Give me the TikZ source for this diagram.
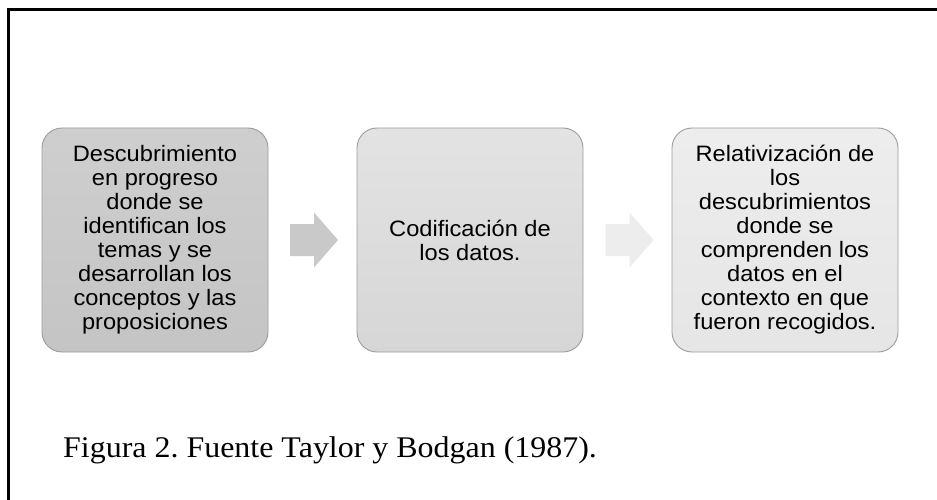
\documentclass[tikz,border=0pt]{standalone}
\usepackage{fontspec}
\setmainfont{Liberation Serif}
\newfontfamily\boxfont[FakeStretch=1.06]{Liberation Sans}
\newfontfamily\capfont[FakeStretch=1.065]{Liberation Serif}
\usetikzlibrary{calc}
\frenchspacing
\definecolor{edgegray}{HTML}{9C9C9C}
\tikzset{
  stepbox/.style={draw=edgegray, line width=0.9pt, rounded corners=20pt,
    minimum width=226pt, minimum height=224pt, inner sep=0pt, align=center,
    font=\boxfont\fontsize{22.3}{24}\selectfont, text=black},
  blockarrow/.style={draw=none},
}
\newcommand{\blockarrowat}[2]{%
  \fill[blockarrow, #2] ($(#1)+(-24,-16)$) -- ($(#1)+(0,-16)$) -- ($(#1)+(0,-27.5)$)
    -- ($(#1)+(24,0)$) -- ($(#1)+(0,27.5)$) -- ($(#1)+(0,16)$) -- ($(#1)+(-24,16)$) -- cycle;}
\begin{document}
\begin{tikzpicture}[x=1pt,y=-1pt]
\fill[white] (0,0) rectangle (937,500);
\useasboundingbox (0,0) rectangle (937,500);
\coordinate (fa) at (8.5,500);
\coordinate (fb) at (8.5,9.5);
\coordinate (fc) at (937,9.5);
\draw[line width=2.6pt, black] (fa) -- (fb) -- (fc);

\node[stepbox, top color=gray!38, bottom color=gray!46] (b1) at (155,240)
  {Descubrimiento\\en progreso\\donde se\\identifican los\\temas y se\\desarrollan los\\conceptos y las\\proposiciones};
\node[stepbox, top color=gray!22, bottom color=gray!32] (b2) at (470,240)
  {Codificación de\\los datos.};
\node[stepbox, top color=gray!14, bottom color=gray!20] (b3) at (785,240)
  {Relativización de\\los\\descubrimientos\\donde se\\comprenden los\\datos en el\\contexto en que\\fueron recogidos.};

\coordinate (a1) at ($(b1.east)!0.5!(b2.west)+(1.5,0)$);
\coordinate (a2) at ($(b2.east)!0.5!(b3.west)+(2,0)$);
\blockarrowat{a1}{fill=gray!42}
\blockarrowat{a2}{fill=gray!14}

\node[anchor=base west, inner sep=0pt, font=\capfont\fontsize{30}{34}\selectfont] (cap) at (63,457)
  {Figura 2. Fuente Taylor y Bodgan (1987).};
\end{tikzpicture}
\end{document}
